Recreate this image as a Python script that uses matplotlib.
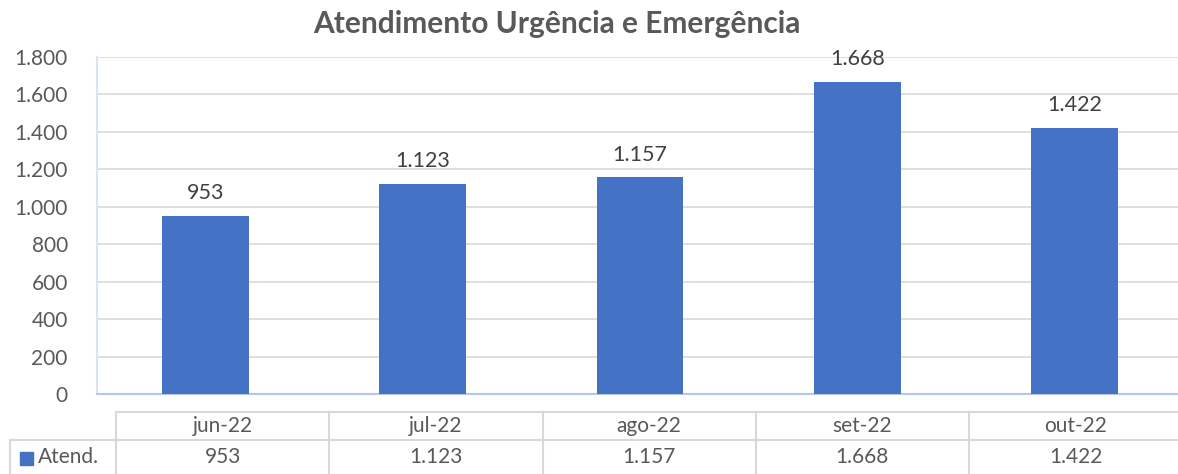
import matplotlib.pyplot as plt
from matplotlib.patches import Rectangle

plt.rcParams.update({
    "font.family": ["Lato", "DejaVu Sans"],
    "font.size": 15,
})

# data
months = ["jun-22", "jul-22", "ago-22", "set-22", "out-22"]
atend = [953, 1123, 1157, 1668, 1422]
series_name = "Atend."
title = "Atendimento Urgência e Emergência"

bar_color = "#4472c4"
text_color = "#595959"
grid_color = "#d9d9d9"

W, H = 1178, 474


def fmt(v):
    return f"{v:,.0f}".replace(",", ".")


fig = plt.figure(figsize=(W / 100, H / 100), dpi=100)

# main plot area (pixel positions)
left, right, top, bottom = 97, 1183, 57, 394
ax = fig.add_axes([left / W, (H - bottom) / H, (right - left) / W, (bottom - top) / H])

x = range(len(months))
bars = ax.bar(x, atend, width=0.40, color=bar_color, zorder=3)
ax.set_xlim(-0.5, len(months) - 0.5)
ax.set_ylim(0, 1800)
ax.set_yticks(range(0, 1801, 200))
ax.set_yticklabels([fmt(v) for v in range(0, 1801, 200)], color=text_color)
ax.set_xticks([])
ax.tick_params(axis="y", length=0, pad=21)
ax.grid(axis="y", color=grid_color, lw=1.2, zorder=0)
for s in ["top", "right"]:
    ax.spines[s].set_visible(False)
ax.spines["left"].set_color("#dae3f3")
ax.spines["bottom"].set_color("#b4c7e7")
ax.spines["left"].set_linewidth(1.5)
ax.spines["bottom"].set_linewidth(1.5)

for b, v in zip(bars, atend):
    ax.annotate(fmt(v), (b.get_x() + b.get_width() / 2, v), xytext=(0, 9),
                textcoords="offset points", ha="center", va="bottom",
                color="#404040", fontsize=15.5)

fig.text(557 / W, 1 - 24 / H, title, ha="center", va="center", fontsize=21.5,
         fontweight="bold", color=text_color)

# data table underneath, drawn in pixel coords
tab = fig.add_axes([0, 0, 1, 1])
tab.set_xlim(0, W)
tab.set_ylim(H, 0)
tab.axis("off")

col0, colw = 116, 213.25
row_top, row_mid, row_bot = 412, 440, 476
lkw = dict(color=grid_color, lw=1.5)
tab.plot([col0, W], [row_top, row_top], **lkw)
tab.plot([10, W], [row_mid, row_mid], **lkw)
tab.plot([10, 10], [row_mid, row_bot], **lkw)
for i in range(len(months) + 1):
    xc = col0 + i * colw
    tab.plot([xc, xc], [row_top, row_bot], **lkw)

for i, (m, v) in enumerate(zip(months, atend)):
    xc = col0 + (i + 0.5) * colw
    tab.text(xc, (row_top + row_mid) / 2, m, ha="center", va="center", color=text_color)
    tab.text(xc, (row_mid + row_bot) / 2 - 1, fmt(v), ha="center", va="center", color=text_color)

tab.add_patch(Rectangle((20, 452), 13, 13, color=bar_color))
tab.text(38, (row_mid + row_bot) / 2 - 1, series_name, ha="left", va="center", color=text_color)

fig.savefig("out.png", dpi=100)
